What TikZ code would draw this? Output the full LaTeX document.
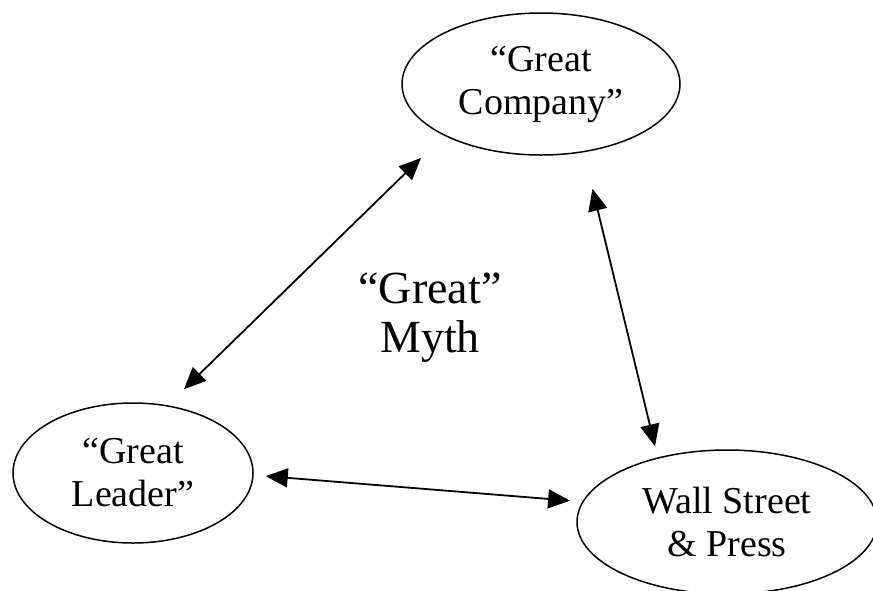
\documentclass[tikz,border=0pt]{standalone}
\usepackage{fontspec}
\setmainfont{Liberation Serif}
\usetikzlibrary{arrows.meta,shapes.geometric}
\tikzset{
  bubble/.style={draw, ellipse, line width=0.75pt, inner sep=0pt, align=center,
    font=\fontsize{19}{21.5}\selectfont},
  link/.style={>={Triangle[length=11pt,width=9.5pt]}, <->, line width=0.9pt}
}
\begin{document}
\begin{tikzpicture}[x=0.5pt,y=-0.5pt]
			%%%%% START %%%%%
			\useasboundingbox (0, 0) rectangle (873, 590);
			
			\node[bubble, minimum width=139pt, minimum height=71pt] (comp) at (541, 84) {“Great\\Company”};
			\node[bubble, minimum width=120pt, minimum height=70pt] (lead) at (133, 473) {“Great\\Leader”};
			\node[bubble, minimum width=150pt, minimum height=72pt] (wall) at (727, 522) {Wall Street\\\& Press};
			
			\node[align=center, font=\fontsize{23}{24.5}\selectfont] (myth) at (430, 318) {“Great”\\Myth};
			
			\draw[link, shorten <=11.4pt, shorten >=16pt] (lead.63.4) -- (comp.208.6);
			\draw[link, shorten <=18.75pt, shorten >=5.7pt] (comp.302.7) -- (wall.137.3);
			\draw[link, shorten <=6.05pt, shorten >=6.1pt] (lead.359.6) -- (wall.172.6);
			
			%%%%% END %%%%%
\end{tikzpicture}
\end{document}
